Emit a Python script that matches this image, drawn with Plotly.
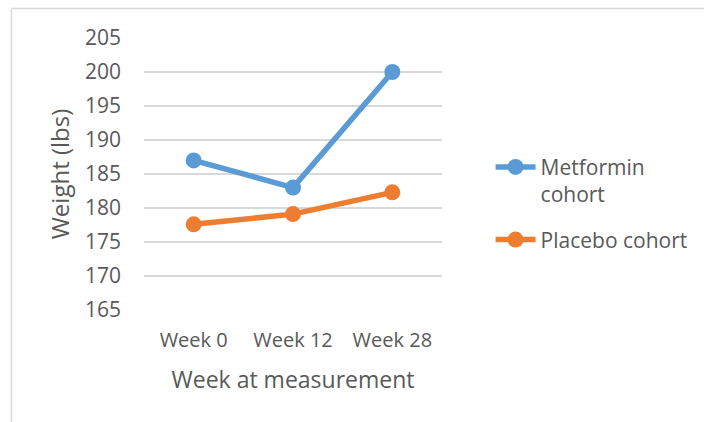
import plotly.graph_objects as go

weeks = ["Week 0", "Week 12", "Week 28"]
metformin = [187.0, 183.0, 200.0]
placebo = [177.6, 179.1, 182.3]
y_ticks = [165, 170, 175, 180, 185, 190, 195, 200, 205]

TEXT = "#595959"
FONT = "Open Sans"

fig = go.Figure()
fig.add_trace(go.Scatter(
    x=weeks, y=metformin, name="Metformin<br>cohort", mode="lines+markers",
    legendgroup="metformin",
    line=dict(color="#5B9BD5", width=5.5),
    marker=dict(color="#5B9BD5", size=16),
))
fig.add_trace(go.Scatter(
    x=weeks, y=placebo, name="Placebo cohort", mode="lines+markers",
    legendgroup="placebo",
    line=dict(color="#ED7D31", width=5.5),
    marker=dict(color="#ED7D31", size=16),
))

fig.update_layout(
    width=704, height=422,
    margin=dict(l=144, r=260, t=38, b=112),
    paper_bgcolor="white", plot_bgcolor="white",
    font=dict(family=FONT, color=TEXT, size=20),
    showlegend=True,
    legend=dict(
        x=1.163, y=0.60, xanchor="left", yanchor="top",
        font=dict(size=21, color=TEXT), valign="top",
        traceorder="grouped", tracegroupgap=15, itemwidth=40,
    ),
    xaxis=dict(
        type="category", range=[-0.5, 2.5], showgrid=False, zeroline=False,
        showline=False, ticks="", tickfont=dict(size=20, color=TEXT),
        ticklabelstandoff=16,
        title=dict(text="Week at measurement", font=dict(size=23, color=TEXT), standoff=19),
    ),
    yaxis=dict(
        range=[165, 205], tickvals=y_ticks, showgrid=True, gridcolor="#D9D9D9",
        gridwidth=1.5, zeroline=False, showline=False, ticks="",
        tickfont=dict(size=21, color=TEXT), ticklabelstandoff=22,
        title=dict(text="Weight (lbs)", font=dict(size=24, color=TEXT), standoff=8),
    ),
)

# light frame around the chart area
frame = dict(color="#D9D9D9", width=1.5)
fig.add_shape(type="line", xref="paper", yref="paper",
              x0=-0.445, x1=1.9, y0=1.1085, y1=1.1085, line=frame)
fig.add_shape(type="line", xref="paper", yref="paper",
              x0=-0.445, x1=-0.445, y0=1.1085, y1=-0.5, line=frame)

fig.write_html("out.html")
